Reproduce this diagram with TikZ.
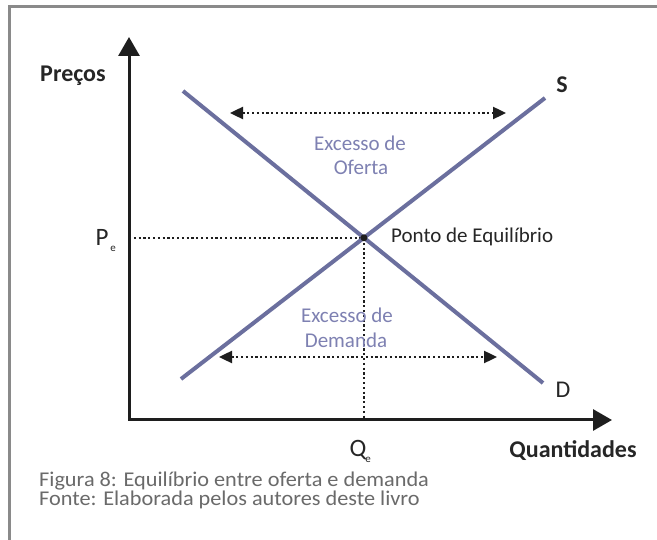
\documentclass[tikz,border=0pt]{standalone}
\usepackage{fontspec}
\setmainfont{Carlito}
\newfontfamily\captfont[FakeStretch=1.06]{Carlito}
\usetikzlibrary{arrows.meta}
\definecolor{curvecol}{HTML}{6B6F9E}
\definecolor{exccol}{HTML}{7E81B2}
\definecolor{captcol}{HTML}{6A6A6A}
\definecolor{framecol}{HTML}{8A8A8A}
\definecolor{axiscol}{HTML}{1E1E1E}
\definecolor{txtcol}{HTML}{262626}
\tikzset{
  axisline/.style={axiscol, line width=3pt},
  curve/.style={curvecol, line width=4pt},
  dotline/.style={axiscol, line width=2.4pt, dash pattern=on 2.2pt off 2.6pt},
  dotarrow/.style={dotline, {Triangle[length=13pt,width=12pt]}-{Triangle[length=13pt,width=12pt]}},
  lbl/.style={inner sep=0pt, text=txtcol, font=\fontsize{22}{26}\selectfont},
  boldlbl/.style={lbl, font=\fontsize{24}{28}\selectfont\bfseries},
  bigl/.style={inner sep=0pt, text=txtcol, font=\fontsize{25}{29}\selectfont},
  subl/.style={inner sep=0pt, text=txtcol, font=\fontsize{11}{13}\selectfont},
  exctxt/.style={inner sep=0pt, text=exccol, font=\fontsize{21}{25}\selectfont},
  capt/.style={inner sep=0pt, anchor=base west, text=captcol, font=\captfont\fontsize{21}{25}\selectfont}
}
\begin{document}
\begin{tikzpicture}[x=1pt,y=-1pt]
\useasboundingbox (0,0) rectangle (657,540);
\fill[white] (0,0) rectangle (657,540);
% frame
\draw[framecol, line width=3pt] (9,545) -- (9,7) -- (662,7);
% axes
\coordinate (O) at (129,420);
\coordinate (ytip) at (129,37);
\coordinate (xtip) at (612,420);
\draw[axisline, {Triangle[length=19pt,width=21pt]}-{Triangle[length=19pt,width=21pt]}] (ytip) -- (O) -- (xtip);
% curves
\coordinate (s1) at (181,379);
\coordinate (s2) at (545,98);
\coordinate (d1) at (183,91);
\coordinate (d2) at (543,383);
\coordinate (E) at (intersection of s1--s2 and d1--d2);
% dotted guides
\draw[dotline] (O |- E) -- (E) -- (E |- O);
\draw[curve] (d1) -- (d2);
\draw[curve] (s1) -- (s2);
\fill[axiscol] (E) circle (3.5pt);
% excess arrows
\coordinate (ta) at (230,113);
\coordinate (tb) at (506,113);
\coordinate (ba) at (219,357);
\coordinate (bb) at (497,357);
\draw[dotarrow] (ta) -- (tb);
\draw[dotarrow] (ba) -- (bb);
% labels
\node[boldlbl] (precos) at (73,76) {Preços};
\node[boldlbl] (slab) at (562,85) {S};
\node[lbl, font=\fontsize{24}{28}\selectfont] (dlab) at (563,390) {D};
\node[bigl] (plab) at (102,237) {P};
\node[subl] (pe) at (113,249) {e};
\node[bigl] (qlab) at (358,450) {Q};
\node[subl] (qe) at (368,460) {e};
\node[boldlbl] (quant) at (573,451) {Quantidades};
\node[lbl, anchor=west, font=\fontsize{21}{25}\selectfont] (ponto) at (391,237) {Ponto de Equilíbrio};
\node[exctxt] (eo1) at (360,143) {Excesso de};
\node[exctxt] (eo2) at (361,167) {Oferta};
\node[exctxt] (ed1) at (347,315) {Excesso de};
\node[exctxt] (ed2) at (346,340) {Demanda};
\node[capt] (cap1) at (39,486) {Figura 8: Equilíbrio entre oferta e demanda};
\node[capt] (cap2) at (39,505) {Fonte: Elaborada pelos autores deste livro};
\end{tikzpicture}
\end{document}
